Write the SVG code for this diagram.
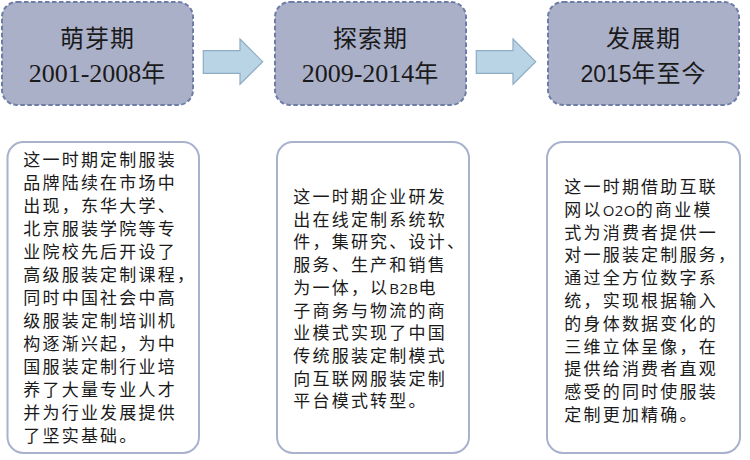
<svg xmlns="http://www.w3.org/2000/svg" width="750" height="460" viewBox="0 0 750 460">
<style>
.stage{fill:#AAB0C8;stroke:#6E7DA5;stroke-width:2;stroke-dasharray:4.5 2.5}
.card{fill:#FFFFFF;stroke:#A8B2CD;stroke-width:2}
.arrow{fill:#B9D4E4;stroke:#8EABC4;stroke-width:1.2}
.h{font-family:"Noto Sans CJK SC","Noto Sans",sans-serif;font-size:24px;fill:#1A1A1A;text-anchor:middle;letter-spacing:1px}
.serif{font-family:"Liberation Serif","Noto Sans CJK SC",serif;font-size:26px;letter-spacing:0}
.sans{font-family:"Liberation Sans","Noto Sans CJK SC",sans-serif;font-size:23px;letter-spacing:0}
.b{font-family:"Noto Sans CJK SC","Noto Sans",sans-serif;font-size:17px;fill:#1A1A1A;letter-spacing:2.2px}
.lat{font-family:"Open Sans","Noto Sans",sans-serif;font-size:15px;letter-spacing:0.4px}
</style>
<rect width="750" height="460" fill="#FFFFFF"/>
<g id="connectors">
<polygon class="arrow" points="203.3,50.7 240,50.7 240,39 262.7,61.7 240,84.3 240,73.3 203.3,73.3"/>
<polygon class="arrow" points="476.3,50.7 513,50.7 513,39 535.7,61.7 513,84.3 513,73.3 476.3,73.3"/>
</g>
<g id="stage1">
<rect class="stage" x="2" y="2" width="191" height="103" rx="15"/>
<text class="h" x="97.5" y="47">萌芽期</text>
<text class="h" x="97.5" y="82"><tspan class="serif">2001-2008</tspan>年</text>
</g>
<g id="stage2">
<rect class="stage" x="275" y="2" width="191" height="103" rx="15"/>
<text class="h" x="370.5" y="47">探索期</text>
<text class="h" x="370.5" y="82"><tspan class="serif">2009-2014</tspan>年</text>
</g>
<g id="stage3">
<rect class="stage" x="548" y="2" width="191" height="103" rx="15"/>
<text class="h" x="643.5" y="47">发展期</text>
<text class="h" x="643.5" y="82"><tspan class="sans">2015</tspan>年至今</text>
</g>
<g id="desc1">
<rect class="card" x="7.5" y="142" width="191.5" height="311" rx="16"/>
<text class="b" x="23.3">
<tspan x="23.3" y="166.3">这一时期定制服装</tspan>
<tspan x="23.3" y="189.3">品牌陆续在市场中</tspan>
<tspan x="23.3" y="212.3">出现，东华大学、</tspan>
<tspan x="23.3" y="235.3">北京服装学院等专</tspan>
<tspan x="23.3" y="258.3">业院校先后开设了</tspan>
<tspan x="23.3" y="281.3">高级服装定制课程，</tspan>
<tspan x="23.3" y="304.3">同时中国社会中高</tspan>
<tspan x="23.3" y="327.3">级服装定制培训机</tspan>
<tspan x="23.3" y="350.3">构逐渐兴起，为中</tspan>
<tspan x="23.3" y="373.3">国服装定制行业培</tspan>
<tspan x="23.3" y="396.3">养了大量专业人才</tspan>
<tspan x="23.3" y="419.3">并为行业发展提供</tspan>
<tspan x="23.3" y="442.3">了坚实基础。</tspan>
</text>
</g>
<g id="desc2">
<rect class="card" x="277" y="142" width="192" height="311" rx="16"/>
<text class="b" x="293.3">
<tspan x="293.3" y="203">这一时期企业研发</tspan>
<tspan x="293.3" y="225.7">出在线定制系统软</tspan>
<tspan x="293.3" y="248.4">件，集研究、设计、</tspan>
<tspan x="293.3" y="271.1">服务、生产和销售</tspan>
<tspan x="293.3" y="293.8">为一体，以<tspan class="lat">B2B</tspan>电</tspan>
<tspan x="293.3" y="316.5">子商务与物流的商</tspan>
<tspan x="293.3" y="339.2">业模式实现了中国</tspan>
<tspan x="293.3" y="361.9">传统服装定制模式</tspan>
<tspan x="293.3" y="384.6">向互联网服装定制</tspan>
<tspan x="293.3" y="407.3">平台模式转型。</tspan>
</text>
</g>
<g id="desc3">
<rect class="card" x="547" y="142" width="193" height="311" rx="16"/>
<text class="b" x="564.3">
<tspan x="564.3" y="193">这一时期借助互联</tspan>
<tspan x="564.3" y="215.8">网以<tspan class="lat">O2O</tspan>的商业模</tspan>
<tspan x="564.3" y="238.6">式为消费者提供一</tspan>
<tspan x="564.3" y="261.4">对一服装定制服务，</tspan>
<tspan x="564.3" y="284.2">通过全方位数字系</tspan>
<tspan x="564.3" y="307">统，实现根据输入</tspan>
<tspan x="564.3" y="329.8">的身体数据变化的</tspan>
<tspan x="564.3" y="352.6">三维立体呈像，在</tspan>
<tspan x="564.3" y="375.4">提供给消费者直观</tspan>
<tspan x="564.3" y="398.2">感受的同时使服装</tspan>
<tspan x="564.3" y="421">定制更加精确。</tspan>
</text>
</g>
</svg>
